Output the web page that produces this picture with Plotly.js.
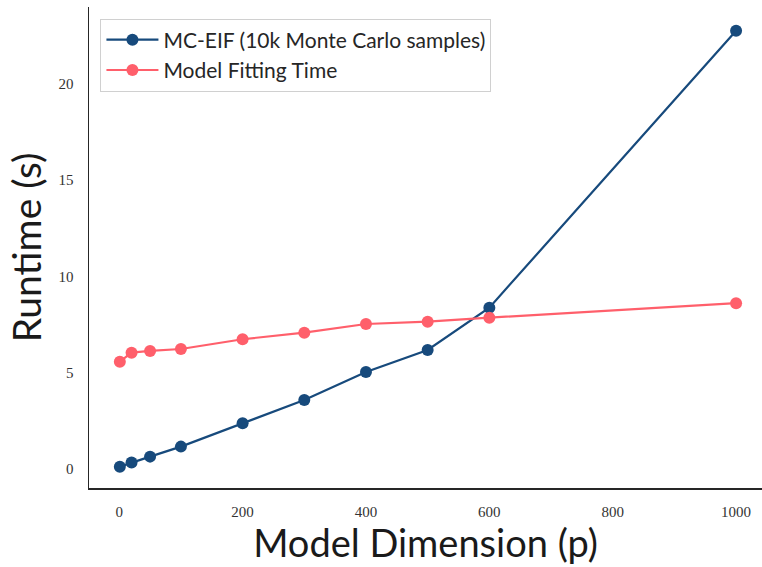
<!DOCTYPE html>
<html>
<head>
<meta charset="utf-8">
<script src="https://cdn.plot.ly/plotly-3.0.1.min.js"></script>
<style>html,body{margin:0;padding:0;background:#fff;}#chart{width:762px;height:567px;}</style>
</head>
<body>
<div id="chart"></div>
<script>
const dims = [1, 20, 50, 100, 200, 300, 400, 500, 600, 1000];
const mcEifRuntime = [0.12, 0.33, 0.64, 1.16, 2.37, 3.58, 5.04, 6.18, 8.38, 22.77];
const fitRuntime = [5.57, 6.04, 6.13, 6.23, 6.74, 7.08, 7.53, 7.65, 7.86, 8.61];
const seriesNames = ['MC-EIF (10k Monte Carlo samples)', 'Model Fitting Time'];
const xTicks = [0, 200, 400, 600, 800, 1000];
const yTicks = [0, 5, 10, 15, 20];

const blue = '#174a7c';
const red = '#ff5f6b';

const traces = [
  {x: dims, y: mcEifRuntime, name: seriesNames[0], mode: 'lines+markers', type: 'scatter',
   line: {color: blue, width: 2.2}, marker: {color: blue, size: 12}},
  {x: dims, y: fitRuntime, name: seriesNames[1], mode: 'lines+markers', type: 'scatter',
   line: {color: red, width: 2.2}, marker: {color: red, size: 12}}
];

const layout = {
  width: 762, height: 567,
  margin: {l: 89, r: 0, t: 7, b: 79},
  paper_bgcolor: '#fff', plot_bgcolor: '#fff',
  showlegend: true,
  legend: {x: 0.017, y: 0.976, xanchor: 'left', yanchor: 'top', bgcolor: '#fff',
    bordercolor: '#d0d0d0', borderwidth: 1, font: {family: 'Lato, "DejaVu Sans", sans-serif', size: 21, color: '#262626'},
    tracegroupgap: 0, itemwidth: 52},
  xaxis: {range: [-49, 1042], tickvals: xTicks, showgrid: false, zeroline: false,
    showline: true, linecolor: '#262626', linewidth: 1.5, mirror: false,
    ticks: 'outside', ticklen: 9, tickcolor: 'rgba(0,0,0,0)',
    tickfont: {family: '"Liberation Serif", "DejaVu Serif", serif', size: 15, color: '#333'},
    title: {text: 'Model Dimension (p)', font: {family: 'Lato, "DejaVu Sans", sans-serif', size: 38, color: '#1a1a1a'}, standoff: 7}},
  yaxis: {range: [-0.99, 24.0], tickvals: yTicks, showgrid: false, zeroline: false,
    showline: true, linecolor: '#262626', linewidth: 1.5, mirror: false,
    ticks: 'outside', ticklen: 11, tickcolor: 'rgba(0,0,0,0)',
    tickfont: {family: '"Liberation Serif", "DejaVu Serif", serif', size: 15, color: '#333'},
    title: {text: 'Runtime (s)', font: {family: 'Lato, "DejaVu Sans", sans-serif', size: 39, color: '#1a1a1a'}, standoff: 5}}
};

Plotly.newPlot('chart', traces, layout, {displayModeBar: false, staticPlot: true});
</script>
</body>
</html>
